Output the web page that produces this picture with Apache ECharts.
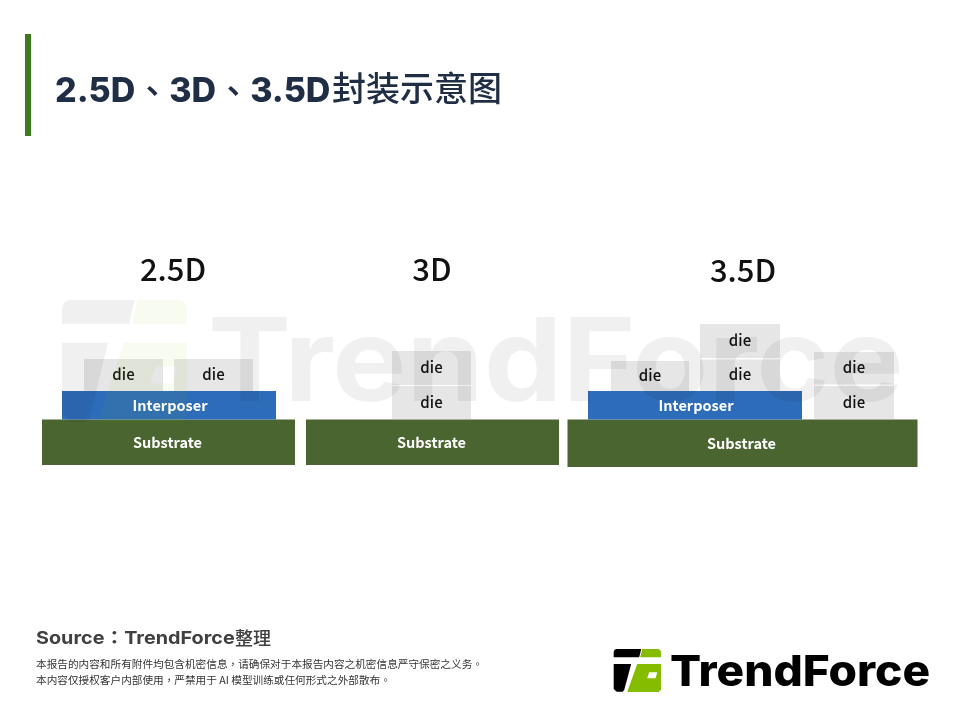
<!DOCTYPE html>
<html>
<head>
<meta charset="utf-8">
<title>2.5D、3D、3.5D封装示意图</title>
<script src="https://cdn.jsdelivr.net/npm/echarts@6/dist/echarts.min.js"></script>
<style>
html, body { margin: 0; padding: 0; background: #fff; }
#main { width: 960px; height: 720px; }
</style>
</head>
<body>
<div id="main"></div>
<script>
// package names and where they sit on the sheet
var packageNames = ['2.5D', '3D', '3.5D'];
var packageCenters = [173, 432, 743];
var packageLevels = [269, 269, 270];

// layers of the three stacks
var layerNames = [
    'Substrate', 'Interposer', 'die', 'die',
    'Substrate', 'die', 'die',
    'Substrate', 'Interposer', 'die', 'die', 'die', 'die', 'die'
];
var layerStart = [42, 62, 84, 174, 306, 392, 392, 567.5, 588, 611, 700, 700, 814, 814];
var layerEnd = [295, 276, 163, 253, 559, 471, 471, 917.5, 802, 689, 780, 780, 894, 894];
var layerTop = [419.5, 391, 359, 359, 419.5, 351, 386, 419.5, 391, 361, 324, 359.5, 352, 386];
var layerBottom = [465, 419.5, 391, 391, 465, 385, 419, 467, 419.5, 391, 358, 391, 384.5, 419];

var layerColors = { Substrate: '#4a6530', Interposer: '#2d6cb9', die: '#e6e6e6' };
var labelNudge = { Substrate: [-1, 0], Interposer: [1, 0], die: [0, -0.5] };

var chart = echarts.init(document.getElementById('main'));

var layerData = layerNames.map(function (name, i) {
    return [layerStart[i], layerEnd[i], layerTop[i], layerBottom[i], name];
});
var packageData = packageNames.map(function (name, i) {
    return [packageCenters[i], packageLevels[i], name];
});

function renderLayer(params, api) {
    var name = layerNames[params.dataIndex];
    var a = api.coord([api.value(0), api.value(2)]);
    var b = api.coord([api.value(1), api.value(3)]);
    var isDie = name === 'die';
    return {
        type: 'group',
        children: [{
            type: 'rect',
            shape: { x: a[0], y: a[1], width: b[0] - a[0], height: b[1] - a[1] },
            style: { fill: layerColors[name] }
        }, {
            type: 'text',
            style: {
                x: (a[0] + b[0]) / 2 + labelNudge[name][0],
                y: (a[1] + b[1]) / 2 + labelNudge[name][1],
                text: name,
                fill: isDie ? '#111' : '#fff',
                font: (isDie ? '500 15px' : '700 14.5px') + ' "Noto Sans CJK KR"',
                textAlign: 'center',
                textVerticalAlign: 'middle'
            }
        }]
    };
}

function renderPackage(params, api) {
    var p = api.coord([api.value(0), api.value(1)]);
    return {
        type: 'text',
        style: {
            x: p[0],
            y: p[1],
            text: packageNames[params.dataIndex],
            fill: '#111',
            font: '500 31px "Noto Sans CJK KR"',
            textAlign: 'center',
            textVerticalAlign: 'middle'
        }
    };
}

// TrendForce mark, drawn once for the logo and once for the watermark
function logoMark(x, y, sx, sy, dark, green, opacity) {
    return {
        type: 'group',
        x: x, y: y, scaleX: sx, scaleY: sy, z: 100, silent: true,
        children: [{
            type: 'polygon',
            z: 100,
            shape: { points: [[0, 3], [0.7, 1], [2.5, 0], [27.5, 0], [25.5, 8.3], [0, 8.3]] },
            style: { fill: dark, opacity: opacity }
        }, {
            type: 'polygon',
            z: 100,
            shape: { points: [[28.5, 0], [44.5, 0], [46.6, 1], [47.3, 3], [47.3, 8.3], [26.5, 8.3]] },
            style: { fill: green, opacity: opacity }
        }, {
            type: 'polygon',
            z: 100,
            shape: { points: [[0, 15], [17.5, 15], [10.5, 41], [9, 42.7], [3, 42.7], [0, 40]] },
            style: { fill: dark, opacity: opacity }
        }, {
            type: 'polygon',
            z: 100,
            shape: { points: [[23.5, 15], [47.3, 15], [47.3, 26], [42.8, 26], [43.5, 23.3], [35.5, 23.3],
                [33.5, 29.3], [41.8, 29.3], [42.8, 26], [47.3, 26], [47.3, 40.8], [45, 43], [13.5, 43]] },
            style: { fill: green, opacity: opacity }
        }]
    };
}

var option = {
    backgroundColor: '#fff',
    animation: false,
    grid: { left: 0, top: 0, width: 960, height: 720 },
    xAxis: { type: 'value', min: 0, max: 960, show: false },
    yAxis: { type: 'value', min: 0, max: 720, inverse: true, show: false },
    series: [{
        type: 'custom',
        silent: true,
        data: layerData,
        encode: { x: [0, 1], y: [2, 3] },
        renderItem: renderLayer
    }, {
        type: 'custom',
        silent: true,
        data: packageData,
        encode: { x: 0, y: 1 },
        renderItem: renderPackage
    }],
    graphic: [
        { type: 'rect', shape: { x: 25, y: 34, width: 6, height: 102 }, style: { fill: '#3d7a1f' } },
        {
            type: 'text', x: 55, y: 91.5,
            style: {
                text: '{l|2.5D}{p|、}{l|3D}{p|、}{l|3.5D}',
                verticalAlign: 'middle',
                rich: {
                    l: { font: '800 34px Inter', fill: '#1f2d45' },
                    p: { font: '500 34px "Noto Sans CJK TC"', fill: '#1f2d45' }
                }
            }
        },
        {
            type: 'text', x: 332, y: 88,
            style: {
                text: '封装示意图',
                font: '500 34px "Noto Sans CJK SC"',
                fill: '#1f2d45',
                verticalAlign: 'middle'
            }
        },
        {
            type: 'text', x: 208, y: 366, scaleX: 1.075, z: 100, silent: true,
            style: {
                text: 'TrendForce',
                font: '700 116px Inter',
                fill: 'rgba(0,0,0,0.06)',
                verticalAlign: 'middle'
            }
        },
        logoMark(62, 300, 2.64, 2.85, '#000', '#86bc00', 0.06),
        logoMark(613.7, 649, 1, 1, '#000', '#86bc00', 1),
        {
            type: 'text', x: 670, y: 673, scaleX: 1.07,
            style: {
                text: 'TrendForce',
                font: '800 43px Inter',
                fill: '#000',
                verticalAlign: 'middle'
            }
        },
        {
            type: 'text', x: 36, y: 639, scaleX: 1.1,
            style: {
                text: 'Source：TrendForce',
                font: '700 18px Inter, "Noto Sans CJK TC"',
                fill: '#404040',
                verticalAlign: 'middle'
            }
        },
        {
            type: 'text', x: 235, y: 638,
            style: {
                text: '整理',
                font: '500 18px "Noto Sans CJK SC"',
                fill: '#404040',
                verticalAlign: 'middle'
            }
        },
        {
            type: 'text', x: 36, y: 664,
            style: {
                text: '本报告的内容和所有附件均包含机密信息，请确保对于本报告内容之机密信息严守保密之义务。',
                font: '10.65px "Noto Sans CJK TC"',
                fill: '#333',
                verticalAlign: 'middle'
            }
        },
        {
            type: 'text', x: 36, y: 680,
            style: {
                text: '本内容仅授权客户内部使用，严禁用于 AI 模型训练或任何形式之外部散布。',
                font: '10.65px "Noto Sans CJK TC"',
                fill: '#333',
                verticalAlign: 'middle'
            }
        }
    ]
};
chart.setOption(option);
</script>
</body>
</html>
